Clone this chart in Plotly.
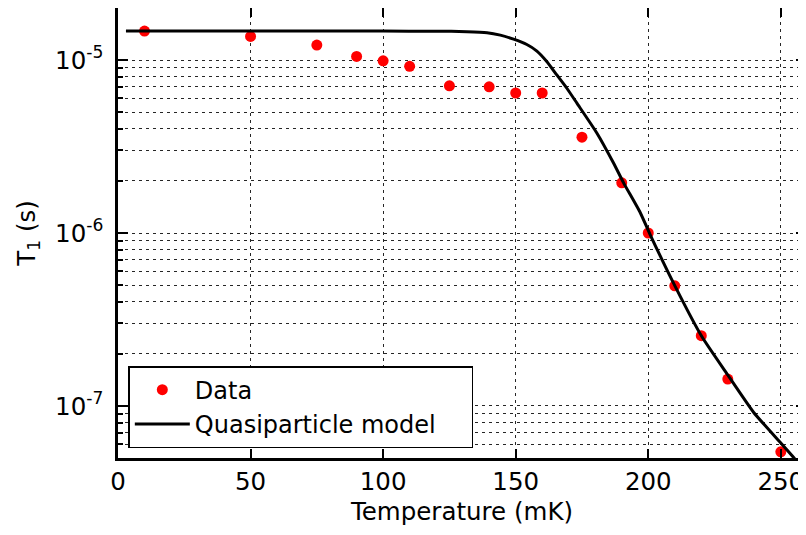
import plotly.graph_objects as go

# Data points (Temperature in mK, T1 in s)
data_T = [10, 50, 75, 90, 100, 110, 125, 140, 150, 160, 175, 190, 200, 210, 220, 230, 250]
data_T1 = [1.47e-5, 1.37e-5, 1.22e-5, 1.05e-5, 0.99e-5, 9.2e-6, 7.1e-6, 7.0e-6, 6.45e-6, 6.45e-6,
           3.58e-6, 1.95e-6, 1.0e-6, 4.95e-7, 2.55e-7, 1.43e-7, 5.43e-8]

# Quasiparticle model curve
model_T = [3, 50, 100, 120, 131.6, 139.2, 144.2, 149.2, 154.2, 158.0, 161.8, 165.5, 169.3, 173.1,
           180.6, 186.9, 190.7, 197, 200.7, 210.1, 220.2, 230, 239.7, 250, 254.7, 257]
model_T1 = [1.47e-5, 1.47e-5, 1.47e-5, 1.468e-5, 1.46e-5, 1.44e-5, 1.393e-5, 1.32e-5, 1.23e-5,
            1.127e-5, 9.78e-6, 8.2e-6, 6.87e-6, 5.63e-6, 3.79e-6, 2.54e-6, 1.95e-6, 1.31e-6,
            9.8e-7, 4.93e-7, 2.52e-7, 1.51e-7, 9.2e-8, 6.1e-8, 5.06e-8, 4.6e-8]

x_ticks = [0, 50, 100, 150, 200, 250]
y_ticks = [1e-7, 1e-6, 1e-5]
y_ticktext = ["10<sup>-7</sup>", "10<sup>-6</sup>", "10<sup>-5</sup>"]
minor_mult = [2, 3, 4, 5, 6, 7, 8, 9]
decades = [1e-8, 1e-7, 1e-6, 1e-5]
y_minor = [m * d for d in decades for m in minor_mult]

FONT = "DejaVu Sans"
FS = 24.5
grid_color = "rgba(0,0,0,0.85)"
grid_dash = "3px,4px"

fig = go.Figure()
fig.add_trace(go.Scatter(
    x=data_T, y=data_T1, mode="markers", name="Data",
    marker=dict(color="#ff0000", size=11, line=dict(width=0)),
))
fig.add_trace(go.Scatter(
    x=model_T, y=model_T1, mode="lines", name="Quasiparticle model\u00a0\u00a0\u00a0\u00a0",
    line=dict(color="black", width=3, shape="spline", smoothing=0.5),
))

# page body has an 8px margin, so the figure is offset by 8px
fig.update_layout(
    width=798, height=527,
    margin=dict(l=110, r=0, t=0, b=77, autoexpand=False),
    paper_bgcolor="white", plot_bgcolor="white",
    font=dict(family=FONT, size=FS, color="black"),
    showlegend=True,
    legend=dict(
        x=0.015, y=0.022, xanchor="left", yanchor="bottom",
        bordercolor="black", borderwidth=1.5, bgcolor="white",
        font=dict(family=FONT, size=24, color="black"),
        itemwidth=55, tracegroupgap=0,
    ),
    xaxis=dict(
        range=[0, 259.5],
        tickvals=x_ticks,
        showline=True, linecolor="black", linewidth=2.5, mirror="allticks",
        ticks="inside", ticklen=9, tickwidth=1.5, tickcolor="black",
        showgrid=True, gridcolor=grid_color, gridwidth=1, griddash=grid_dash,
        zeroline=False,
        ticklabelstandoff=0,
        title=dict(text="Temperature (mK)", standoff=8, font=dict(size=FS)),
    ),
    yaxis=dict(
        type="log",
        range=[-7.301, -4.699],
        tickvals=y_ticks, ticktext=y_ticktext,
        showline=True, linecolor="black", linewidth=2.5, mirror="allticks",
        ticks="inside", ticklen=10, tickwidth=1.5, tickcolor="black",
        showgrid=True, gridcolor=grid_color, gridwidth=1, griddash=grid_dash,
        zeroline=False,
        ticklabelstandoff=7,
        minor=dict(
            tickvals=y_minor, ticks="inside", ticklen=5, tickwidth=1.5, tickcolor="black",
            showgrid=True, gridcolor=grid_color, gridwidth=1, griddash=grid_dash,
        ),
        title=dict(text="T<sub>1</sub> (s)", standoff=13, font=dict(size=FS)),
    ),
)

fig.write_html("out.html")
